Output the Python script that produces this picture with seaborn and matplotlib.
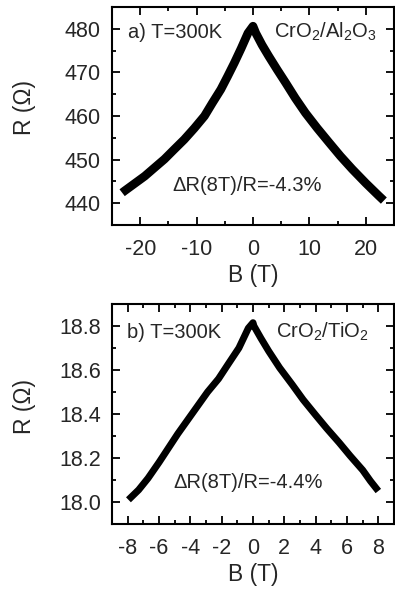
import numpy as np
import pandas as pd
import matplotlib
matplotlib.use("Agg")
import matplotlib.pyplot as plt
from matplotlib.ticker import MultipleLocator
import seaborn as sns

# Panel a: CrO2/Al2O3
B_a = [-23.2, -22.8, -21.0, -19.2, -17.5, -15.7, -14.0, -12.2, -10.4, -8.6,
       -7.2, -5.7, -4.5, -3.3, -2.1, -0.9, 0.0,
       0.5, 1.6, 2.8, 4.3, 5.8, 7.5, 9.3, 11.4, 13.5, 15.5, 17.6, 20.0, 22.3, 23.2]
R_a = [442.4, 442.8, 444.5, 446.2, 448.1, 450.1, 452.3, 454.6, 457.2, 460.0,
       463.0, 466.1, 469.1, 472.2, 475.5, 479.0, 480.6,
       479.0, 476.3, 473.7, 470.6, 467.6, 464.1, 460.7, 457.2, 453.9, 450.8, 447.8, 444.6, 441.7, 440.6]

# Panel b: CrO2/TiO2
B_b = [-7.95, -7.3, -6.7, -6.0, -5.4, -4.8, -4.2, -3.5, -2.9, -2.2, -1.6, -0.9,
       -0.3, 0.0, 0.06, 0.5, 1.0, 1.7, 2.5, 3.2, 4.0, 4.7, 5.5, 6.2, 7.0, 7.5, 8.0]
R_b = [18.01, 18.055, 18.108, 18.18, 18.245, 18.31, 18.37, 18.44, 18.50, 18.56,
       18.625, 18.70, 18.79, 18.815, 18.80, 18.745, 18.686, 18.61, 18.534, 18.465,
       18.395, 18.335, 18.27, 18.21, 18.145, 18.095, 18.05]

xticks_a = [-20, -10, 0, 10, 20]
yticks_a = [440, 450, 460, 470, 480]
xticks_b = [-8, -6, -4, -2, 0, 2, 4, 6, 8]
yticks_b = [18.0, 18.2, 18.4, 18.6, 18.8]

sns.set_theme(style="ticks")
plt.rcParams['font.family'] = ['Liberation Sans', 'DejaVu Sans']
plt.rcParams['mathtext.fontset'] = 'custom'
plt.rcParams['mathtext.rm'] = 'Liberation Sans'
plt.rcParams['mathtext.it'] = 'Liberation Sans:italic'
plt.rcParams['axes.unicode_minus'] = False

fig = plt.figure(figsize=(3.95, 5.95), dpi=100)
ax1 = fig.add_axes([112/395, (595-225)/595, 282/395, 218/595])
ax2 = fig.add_axes([112/395, (595-524)/595, 282/395, 220/595])

df_a = pd.DataFrame({"B": B_a, "R": R_a})
df_b = pd.DataFrame({"B": B_b, "R": R_b})
sns.lineplot(data=df_a, x="B", y="R", ax=ax1, color="black", lw=6.2,
             sort=False, solid_capstyle="butt", solid_joinstyle="round")
sns.lineplot(data=df_b, x="B", y="R", ax=ax2, color="black", lw=5.0,
             sort=False, solid_capstyle="butt", solid_joinstyle="round")

def style(ax, xt, yt, xlim, ylim, xminor, yminor, yfmt, ylab_y):
    ax.set_xlim(*xlim)
    ax.set_ylim(*ylim)
    ax.set_xticks(xt)
    ax.set_xticklabels([str(v) for v in xt])
    ax.set_yticks(yt)
    ax.set_yticklabels([yfmt.format(v) for v in yt])
    ax.xaxis.set_minor_locator(MultipleLocator(xminor))
    ax.yaxis.set_minor_locator(MultipleLocator(yminor))
    ax.tick_params(which='both', direction='in', top=True, right=True,
                   labelsize=15.5, width=1.3, color='black')
    ax.tick_params(axis='y', pad=8)
    ax.tick_params(axis='x', pad=10)
    ax.tick_params(which='major', length=6)
    ax.tick_params(which='minor', length=3)
    for s in ax.spines.values():
        s.set_linewidth(1.5)
        s.set_color('black')
    ax.set_xlabel("B (T)", fontsize=16.5, labelpad=3)
    ax.set_ylabel("R (\u03A9)", fontsize=16.5)
    ax.yaxis.set_label_coords(-0.27, ylab_y)

style(ax1, xticks_a, yticks_a, (-25, 25), (435, 485), 5, 5, "{:.0f}", 0.537)
style(ax2, xticks_b, yticks_b, (-9, 9), (17.9, 18.9), 1, 0.1, "{:.1f}", 0.536)

fs = 14.5
ax1.text(0.057, 0.858, "a) T=300K", transform=ax1.transAxes, fontsize=fs,
         ha='left', va='baseline')
ax1.text(0.574, 0.858, "CrO$_2$/Al$_2$O$_3$", transform=ax1.transAxes,
         fontsize=fs, ha='left', va='baseline')
ax1.text(0.48, 0.156, "\u0394R(8T)/R=-4.3%", transform=ax1.transAxes,
         fontsize=fs, ha='center', va='baseline')

ax2.text(0.053, 0.845, "b) T=300K", transform=ax2.transAxes, fontsize=fs,
         ha='left', va='baseline')
ax2.text(0.58, 0.845, "CrO$_2$/TiO$_2$", transform=ax2.transAxes,
         fontsize=fs, ha='left', va='baseline')
ax2.text(0.484, 0.164, "\u0394R(8T)/R=-4.4%", transform=ax2.transAxes,
         fontsize=fs, ha='center', va='baseline')

fig.savefig("out.png", dpi=100)
